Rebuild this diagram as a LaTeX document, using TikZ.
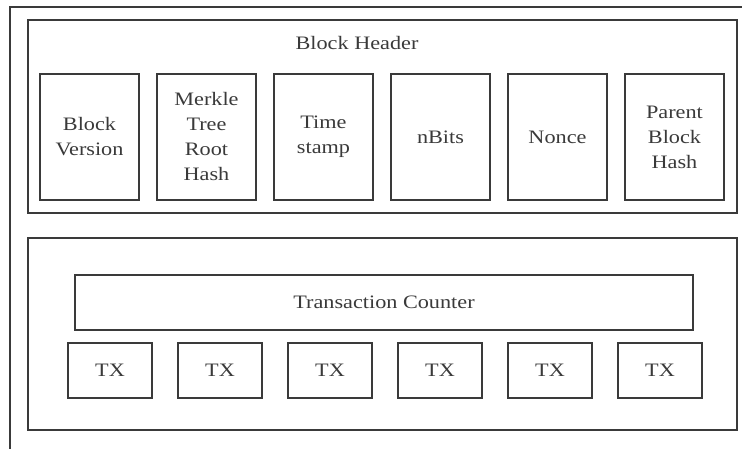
\documentclass[tikz,border=0pt]{standalone}
\usepackage{fontspec}
\setmainfont{Liberation Serif}[FakeStretch=1.17]
\usetikzlibrary{positioning}
\definecolor{linegray}{HTML}{3A3A3A}

\begin{document}
\begin{tikzpicture}[x=1pt, y=-1pt, node distance=117pt, on grid,
    every node/.style={text=linegray, font=\fontsize{19}{25}\selectfont},
    box/.style={draw=linegray, line width=1.4pt, inner sep=0pt, align=center},
    field/.style={box, minimum width=99pt, minimum height=126pt},
    tx/.style={box, minimum width=84pt, minimum height=55pt}]
    \useasboundingbox (0,0) rectangle (742,449);
    \draw[linegray, line width=1.4pt] (742,7) -- (10,7) -- (10,449);

    \node[box, minimum width=709pt, minimum height=193pt] (header) at (382.5,116.5) {};
    \node (title) at (357,43) {Block Header};
    \node[field] (ver) at (89.5,137) {Block\\Version};
    \node[field] (merkle) [right=of ver] {Merkle\\Tree\\Root\\Hash};
    \node[field] (stamp) [right=of merkle] {Time\\stamp};
    \node[field] (bits) [right=of stamp] {nBits};
    \node[field] (nonce) [right=of bits] {Nonce};
    \node[field] (parent) [right=of nonce] {Parent\\Block\\Hash};

    \node[box, minimum width=709pt, minimum height=192pt] (body) at (382.5,334) {};
    \node[box, minimum width=618pt, minimum height=55pt] (counter) at (384,302.5) {Transaction Counter};
    \node[tx] (tx1) at (110,370.5) {TX};
    \node[tx] (tx2) [right=110pt of tx1] {TX};
    \node[tx] (tx3) [right=110pt of tx2] {TX};
    \node[tx] (tx4) [right=110pt of tx3] {TX};
    \node[tx] (tx5) [right=110pt of tx4] {TX};
    \node[tx] (tx6) [right=110pt of tx5] {TX};
\end{tikzpicture}
\end{document}
